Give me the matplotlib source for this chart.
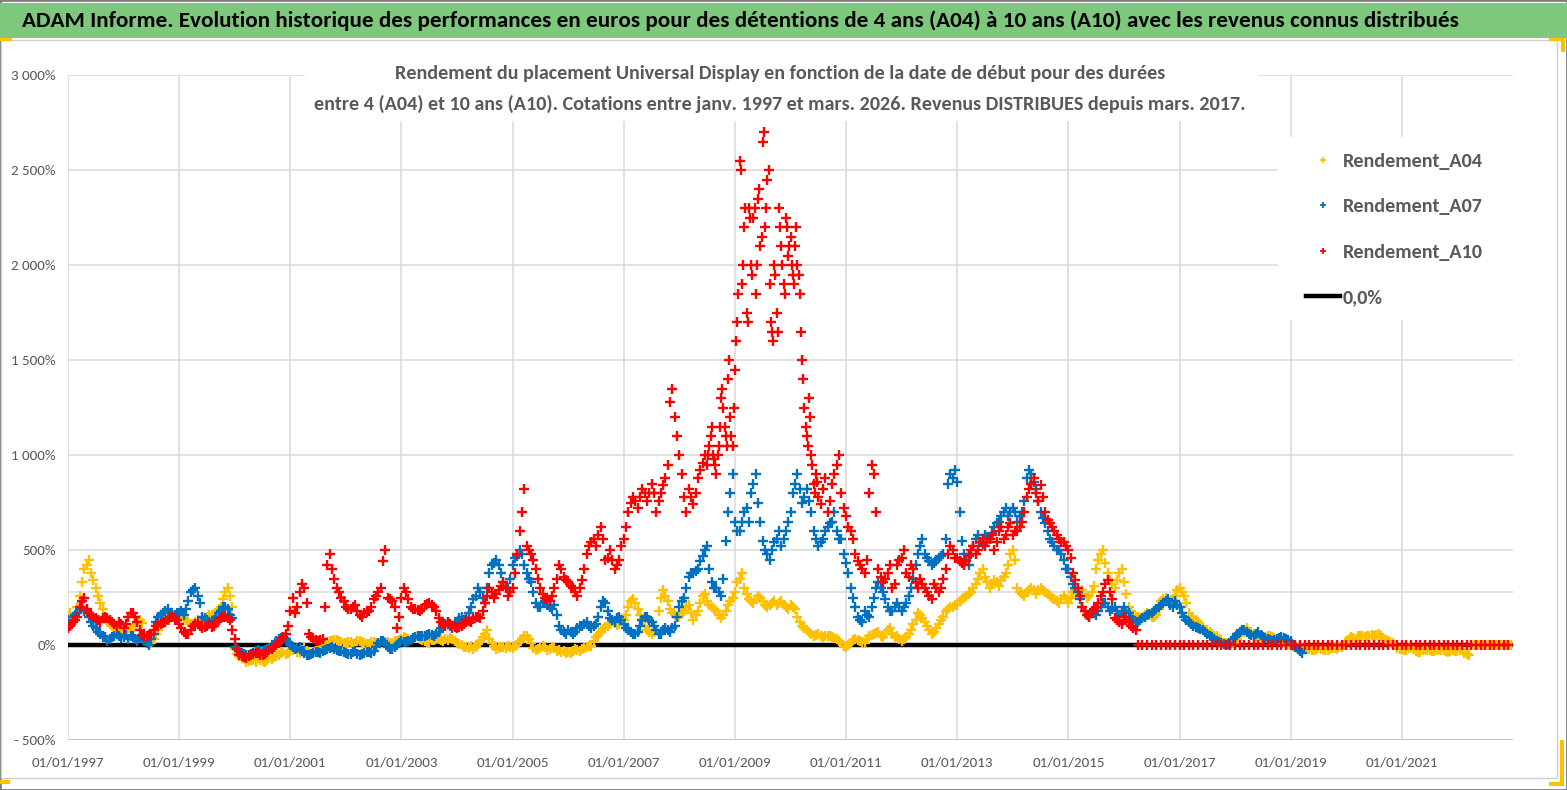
import numpy as np
import matplotlib
matplotlib.use('Agg')
import matplotlib.pyplot as plt
from matplotlib.lines import Line2D
from matplotlib.patches import Rectangle

# ------------------------------------------------------------------ data
# Rendement (%) by start date of the holding.
# *_MID lists are the readings taken half a month later (other side of the band).
A04_START = 1997.0
A04 = [
    150, 130, 200, 330, 420, 380, 300, 220, 150, 110, 90, 80,        # 1997
    80, 90, 95, 120, 115, 20, 10, 60, 100, 120, 140, 150,            # 1998
    155, 140, 120, 110, 130, 120, 150, 160, 170, 200, 280, 260,      # 1999
    -20, -60, -75, -85, -80, -70, -85, -80, -75, -60, -40, -45,      # 2000
    -30, -20, -40, -15, -40, -35, -30, 0, 15, 20, 25, 15,            # 2001
    10, 15, 10, 20, 10, 5, 15, 10, 20, 15, 10, 20,                   # 2002
    30, 35, 25, 40, 30, 20, 15, 25, 30, 20, 25, 30,                  # 2003
    10, 0, -10, -5, -10, 20, 60, 30, -5, -15, -10, -5,               # 2004
    -15, 0, 30, 45, 10, -25, -15, -10, -20, -15, -25, -30,           # 2005
    -35, -30, -25, -20, -10, -5, 40, 70, 95, 110, 115, 110,          # 2006
    130, 200, 240, 190, 130, 80, 60, 80, 250, 260, 190, 160,         # 2007
    150, 180, 210, 130, 180, 260, 230, 200, 180, 140, 180, 230,      # 2008
    280, 350, 300, 240, 220, 260, 230, 200, 220, 210, 230, 200,      # 2009
    210, 190, 120, 90, 70, 50, 60, 40, 50, 40, 30, 10,               # 2010
    -10, 10, 30, 20, 10, 50, 60, 70, 40, 80, 60, 50,                 # 2011
    20, 40, 80, 130, 160, 120, 80, 70, 110, 150, 190, 200,           # 2012
    210, 240, 260, 280, 320, 380, 360, 300, 340, 310, 360, 420,      # 2013
    500, 300, 270, 280, 300, 270, 300, 280, 260, 240, 220, 260,      # 2014
    220, 280, 270, 290, 250, 280, 400, 480, 430, 340, 300, 380,      # 2015
    330, 200, 160, 150, 140, 170, 150, 160, 230, 250, 220, 260,      # 2016
    300, 260, 170, 140, 120, 90, 80, 60, 50, 20, 10, 0,              # 2017
    10, 50, 80, 70, 60, 40, 30, 50, 40, 30, 20, 10,                  # 2018
    0, -10, -20, -10, -20, -25, -15, -20, -25, -15, -20, -10,        # 2019
    20, 40, 30, 50, 40, 45, 50, 60, 30, 20, 10, -15,                 # 2020
    -20, -25, -10, -30, -35, -20, -25, -30, -20, -25, -35, -25,      # 2021
    -30, -20, -45, 0, 0, 0, 0, 0, 0, 0, 0, 0,                        # 2022
]
A04_MID = [
    170, 160, 260, 400, 450, 340, 260, 190, 120, 100, 80, 85,
    85, 80, 110, 130, 60, 15, 30, 80, 120, 130, 150, 160,
    150, 130, 110, 120, 125, 140, 160, 165, 190, 240, 300, 200,
    -45, -70, -90, -80, -90, -80, -90, -70, -65, -50, -35, -40,
    -25, -35, -25, -30, -45, -30, -15, 10, 20, 25, 20, 10,
    15, 5, 20, 15, 5, 15, 10, 20, 15, 5, 20, 25,
    40, 30, 35, 45, 25, 15, 25, 30, 25, 30, 35, 20,
    5, -10, -15, -20, 5, 40, 80, 10, -20, -10, -15, -10,
    -5, 20, 45, 30, -15, -20, -5, -25, -10, -30, -35, -40,
    -40, -20, -30, -15, -5, 20, 55, 85, 100, 120, 105, 125,
    160, 230, 220, 160, 100, 70, 70, 180, 290, 230, 170, 150,
    170, 200, 170, 160, 220, 270, 210, 190, 160, 160, 210, 250,
    330, 380, 270, 230, 240, 250, 210, 210, 230, 220, 210, 190,
    200, 150, 100, 80, 60, 55, 50, 45, 45, 35, 20, -5,
    0, 25, 25, 15, 30, 55, 65, 50, 60, 90, 40, 30,
    30, 60, 110, 170, 140, 100, 60, 90, 130, 180, 200, 210,
    230, 250, 270, 300, 350, 400, 330, 320, 330, 340, 380, 480,
    450, 280, 260, 290, 290, 290, 290, 270, 250, 230, 240, 240,
    250, 290, 260, 270, 260, 310, 450, 500, 380, 320, 340, 400,
    270, 180, 150, 140, 160, 160, 150, 190, 240, 230, 240, 290,
    280, 220, 150, 130, 100, 80, 70, 50, 30, 10, 0, 10,
    30, 70, 90, 60, 50, 35, 40, 45, 35, 25, 15, 5,
    -5, -15, -15, -20, -25, -20, -20, -25, -20, -15, -10, 0,
    30, 35, 45, 45, 45, 55, 55, 45, 25, 15, 0, -20,
    -25, -15, -20, -35, -25, -25, -30, -25, -25, -30, -30, -30,
    -25, -40, -55, 0, 0, 0, 0, 0, 0, 0, 0, 0,
]

A07_START = 1997.0
A07 = [
    130, 150, 170, 200, 180, 120, 90, 60, 40, 30, 50, 45,            # 1997
    40, 30, 50, 20, 40, 10, 30, 120, 160, 180, 170, 160,             # 1998
    170, 160, 230, 290, 260, 150, 130, 120, 150, 180, 200, 160,      # 1999
    -10, -30, -45, -50, -40, -25, -30, -20, -10, 20, 35, 30,         # 2000
    0, -20, -10, -40, -50, -40, -35, -30, -20, -10, -25, -30,        # 2001
    -40, -45, -30, -50, -40, -35, -30, 10, 20, -10, -20, 0,          # 2002
    20, 15, 25, 40, 50, 45, 60, 50, 70, 100, 120, 90,                # 2003
    120, 150, 140, 200, 260, 280, 220, 380, 430, 420, 330, 300,      # 2004
    420, 470, 480, 380, 330, 220, 200, 230, 200, 210, 100, 70,       # 2005
    80, 60, 90, 100, 120, 90, 110, 200, 220, 140, 120, 150,          # 2006
    110, 80, 60, 70, 130, 150, 120, 80, 60, 90, 70, 100,             # 2007
    200, 250, 360, 380, 400, 470, 520, 330, 300, 260, 550, 800,      # 2008
    650, 600, 700, 650, 850, 750, 550, 480, 500, 560, 520, 600,      # 2009
    700, 850, 820, 780, 760, 600, 520, 560, 620, 650, 600, 560,      # 2010
    430, 300, 200, 130, 180, 150, 250, 330, 280, 200, 180, 220,      # 2011
    180, 220, 300, 420, 520, 480, 440, 430, 460, 480, 850, 880,      # 2012
    860, 550, 450, 480, 560, 540, 580, 560, 620, 650, 700, 680,      # 2013
    720, 650, 700, 880, 900, 820, 700, 640, 560, 520, 500, 450,      # 2014
    400, 320, 280, 200, 160, 180, 160, 200, 220, 180, 200, 160,      # 2015
    200, 170, 130, 120, 140, 160, 170, 190, 210, 230, 210, 230,      # 2016
    200, 150, 120, 100, 90, 80, 60, 40, 20, 10, 0, 10,               # 2017
    40, 70, 80, 60, 50, 70, 40, 30, 20, 30, 40, 30,                  # 2018
    20, -10, -30,                                                    # 2019
]
A07_MID = [
    110, 160, 190, 180, 150, 100, 70, 50, 20, 40, 60, 35,
    55, 45, 30, 35, 20, 0, 60, 150, 170, 190, 160, 170,
    180, 190, 280, 300, 220, 140, 120, 130, 170, 200, 190, 140,
    -20, -40, -55, -45, -30, -30, -25, -15, 0, 30, 40, 15,
    -10, -15, -30, -50, -45, -35, -40, -25, -15, -20, -30, -35,
    -45, -35, -45, -45, -35, -40, -10, 20, 10, -20, -10, 10,
    15, 20, 35, 45, 50, 55, 55, 60, 90, 110, 100, 110,
    140, 130, 170, 240, 300, 250, 300, 420, 450, 380, 300, 350,
    460, 500, 420, 350, 280, 200, 220, 210, 190, 160, 80, 60,
    70, 70, 100, 110, 100, 100, 150, 230, 180, 130, 140, 130,
    90, 70, 60, 100, 150, 130, 100, 60, 80, 80, 90, 150,
    230, 300, 380, 390, 440, 500, 400, 300, 280, 350, 700, 900,
    600, 650, 720, 800, 900, 650, 500, 450, 540, 600, 560, 650,
    800, 900, 750, 820, 700, 560, 540, 600, 640, 700, 560, 480,
    380, 250, 150, 120, 160, 200, 300, 300, 240, 180, 200, 200,
    200, 260, 350, 480, 560, 460, 420, 450, 470, 560, 900, 920,
    700, 480, 420, 520, 580, 530, 570, 590, 640, 680, 720, 700,
    700, 680, 760, 920, 860, 760, 670, 600, 540, 500, 480, 400,
    360, 300, 240, 180, 150, 170, 180, 220, 200, 190, 180, 170,
    180, 150, 120, 130, 150, 165, 180, 200, 220, 240, 200, 210,
    170, 130, 110, 95, 85, 70, 50, 30, 15, 5, 5, 30,
    60, 80, 70, 55, 60, 55, 35, 25, 25, 35, 35, 25,
    0, -20, -40,
]

# A10, part 1: monthly, Jan 1997 - Jun 2008
A10_P1_START = 1997.0
A10_P1 = [
    90, 120, 150, 230, 190, 160, 140, 120, 150, 130, 110, 120,       # 1997
    90, 150, 170, 120, 55, 50, 60, 100, 110, 120, 150, 140,          # 1998
    110, 70, 60, 100, 120, 90, 100, 95, 120, 140, 150, 130,          # 1999
    30, -50, -65, -60, -45, -40, -55, -35, -20, 0, 20, 60,           # 2000
    180, 170, 280, 300, 60, 30, 20, 30, 420, 400, 300, 250,          # 2001
    200, 190, 210, 160, 170, 180, 240, 280, 440, 250, 230, 90,       # 2002
    250, 280, 200, 190, 180, 210, 220, 200, 140, 110, 120, 100,      # 2003
    90, 100, 130, 120, 150, 140, 220, 300, 250, 290, 330, 260,       # 2004
    300, 480, 700, 520, 480, 400, 300, 250, 230, 300, 420, 360,      # 2005
    330, 300, 260, 340, 480, 540, 520, 620, 450, 500, 400, 450,      # 2006
    560, 700, 780, 720, 820, 760, 850, 700, 800, 880, 1280, 1200,    # 2007
    1000, 780, 820, 740, 880, 960,                                   # 2008 H1
]
A10_P1_MID = [
    100, 130, 200, 250, 170, 150, 130, 140, 140, 120, 100, 110,
    110, 170, 150, 80, 50, 55, 80, 110, 115, 130, 145, 130,
    90, 60, 80, 110, 100, 95, 110, 100, 130, 150, 140, 80,
    -20, -60, -70, -50, -40, -50, -45, -25, -10, 10, 40, 100,
    250, 200, 320, 220, 40, 25, 25, 200, 480, 350, 280, 230,
    190, 200, 180, 150, 175, 200, 260, 300, 500, 240, 200, 150,
    300, 240, 190, 185, 190, 215, 210, 180, 120, 100, 110, 95,
    95, 110, 125, 135, 145, 180, 260, 280, 270, 310, 300, 280,
    380, 600, 820, 500, 450, 350, 270, 240, 260, 350, 400, 340,
    310, 280, 300, 400, 520, 560, 580, 560, 460, 450, 420, 520,
    620, 750, 760, 780, 800, 800, 800, 760, 840, 950, 1350, 1100,
    900, 700, 780, 800, 920, 1000,
]
# A10, part 2: twice a month, Jul 2008 - Jun 2010
A10_P2_START = 2008.5
A10_P2 = [
    950, 1050, 1150, 980, 900, 1050, 1300, 1250, 1100, 1400, 1200, 1050,
    1450, 1700, 2550, 1900, 2200, 1750, 2300, 2000, 2250, 1850, 2350, 2100,
    2650, 2200, 2450, 1900, 1650, 2000, 1750, 2300, 2100, 1900, 2250, 2050,
    2150, 1950, 2100, 2000, 1850, 1500, 1250, 1100, 1300, 1000, 850, 900,
]
A10_P2_MID = [
    1000, 1100, 1000, 950, 1000, 1150, 1350, 1150, 1050, 1500, 1100, 1250,
    1600, 1850, 2500, 2000, 2300, 1700, 2250, 1950, 2300, 2000, 2400, 2150,
    2700, 2300, 2500, 1700, 1600, 1950, 1650, 2200, 2000, 1850, 2200, 2100,
    2000, 1900, 2200, 1950, 1650, 1400, 1150, 1050, 1200, 950, 800, 860,
]
# A10, part 3: monthly, Jul 2010 - Mar 2016
A10_P3_START = 2010.5
A10_P3 = [
    780, 820, 700, 850, 950, 800,                                    # 2010 H2
    680, 600, 480, 420, 380, 800, 900, 400, 330, 380, 300, 420,      # 2011
    460, 380, 420, 330, 350, 300, 260, 320, 280, 350, 480, 500,      # 2012
    460, 430, 440, 500, 480, 540, 520, 560, 500, 600, 560, 620,      # 2013
    580, 600, 650, 780, 850, 800, 840, 700, 640, 600, 560, 540,      # 2014
    500, 380, 300, 200, 160, 170, 200, 260, 320, 280, 140, 120,      # 2015
    150, 120, 90,                                                    # 2016 Q1
]
A10_P3_MID = [
    740, 880, 760, 900, 1000, 720,
    620, 560, 440, 400, 450, 950, 700, 360, 350, 420, 320, 450,
    500, 360, 400, 300, 320, 280, 240, 300, 300, 400, 520, 460,
    440, 420, 470, 520, 500, 560, 540, 580, 540, 620, 580, 640,
    600, 620, 700, 820, 880, 760, 780, 660, 620, 580, 540, 520,
    460, 340, 260, 180, 150, 190, 220, 280, 340, 240, 130, 110,
    130, 100, 80,
]
# A10, part 4: monthly, Apr 2016 - Dec 2022 (no 10-year result yet -> 0)
A10_P4_START = 2016.25
A10_P4 = [
    0, 0, 0, 0, 0, 0, 0, 0, 0,
    0, 0, 0, 0, 0, 0, 0, 0, 0, 0, 0, 0,
    0, 0, 0, 0, 0, 0, 0, 0, 0, 0, 0, 0,
    0, 0, 0, 0, 0, 0, 0, 0, 0, 0, 0, 0,
    0, 0, 0, 0, 0, 0, 0, 0, 0, 0, 0, 0,
    0, 0, 0, 0, 0, 0, 0, 0, 0, 0, 0, 0,
    0, 0, 0, 0, 0, 0, 0, 0, 0, 0, 0, 0,
]

ZERO_X = [1997.0, 2023.0]
ZERO_Y = [0.0, 0.0]

YTICKS = [-500, 0, 500, 1000, 1500, 2000, 2500, 3000]
YTICK_LABELS = ['- 500%', '0%', '500%', '1 000%', '1 500%', '2 000%', '2 500%', '3 000%']
XTICKS = [1997, 1999, 2001, 2003, 2005, 2007, 2009, 2011, 2013, 2015, 2017, 2019, 2021]
XTICK_LABELS = ['01/01/' + str(y) for y in XTICKS]
EXTRA_GRID = 280

LABELS = ['Rendement_A04', 'Rendement_A07', 'Rendement_A10', '0,0%']
TITLE = ("ADAM Informe. Evolution historique des performances en euros pour des "
         "détentions de 4 ans (A04) à 10 ans (A10) avec les revenus connus distribués")
SUB1 = "Rendement du placement Universal Display en fonction de la date de début pour des durées"
SUB2 = ("entre 4 (A04) et 10 ans (A10). Cotations entre janv. 1997 et mars. 2026. "
        "Revenus DISTRIBUES depuis mars. 2017.")

# ------------------------------------------------------------------ style
YEL, BLU, RED = '#FFC000', '#0070C0', '#FF0000'
GRAY_TXT = '#595959'
GRID = '#D9D9D9'
FONT = ['Carlito', 'IBM Plex Sans Condensed', 'Liberation Sans', 'DejaVu Sans']
plt.rcParams['font.family'] = FONT

W, H = 1567, 790
fig = plt.figure(figsize=(W / 100, H / 100), dpi=100)
fig.patch.set_facecolor('white')
renderer = fig.canvas.get_renderer()


def fx(x):
    return x / W


def fy(y):
    return 1 - y / H


def text_size(s, px_width, weight='normal', ref=20):
    t = fig.text(0, 0, s, fontsize=ref, fontweight=weight)
    w = t.get_window_extent(renderer).width
    t.remove()
    return ref * px_width / w


def text_height(s, size, weight='normal'):
    t = fig.text(0, 0, s, fontsize=size, fontweight=weight)
    h = t.get_window_extent(renderer).height
    t.remove()
    return h


# frame and title bar
fig.add_artist(Rectangle((0, 0), 1, 1, transform=fig.transFigure, fill=False,
                         edgecolor='#7F7F7F', lw=2, zorder=0.5))
fig.add_artist(Rectangle((fx(1), fy(778)), fx(1556), fy(40) - fy(778), transform=fig.transFigure,
                         fill=False, edgecolor='#D0D0D0', lw=1, zorder=0.6))
fig.add_artist(Rectangle((fx(0), fy(38)), 1, fy(3) - fy(38), transform=fig.transFigure,
                         facecolor='#7DC87D', edgecolor='none', zorder=0.7))
ts = text_size(TITLE, 1433, 'bold')
fig.text(fx(22), fy(21), TITLE, fontsize=ts, fontweight='bold', color='black',
         ha='left', va='center', zorder=3)

# yellow corner handles
for (x0, y0, x1, y1) in [(0, 38, 12, 41), (1549, 38, 1565, 41), (1561, 38, 1565, 52),
                         (0, 780, 10, 784), (1549, 782, 1564, 786), (1560, 740, 1564, 786)]:
    fig.add_artist(Rectangle((fx(x0), fy(y1)), fx(x1 - x0), fy(y0) - fy(y1),
                             transform=fig.transFigure, facecolor=YEL,
                             edgecolor='none', zorder=0.8))

# ------------------------------------------------------------------ axes
ax = fig.add_axes([fx(68), fy(740), fx(1513 - 68), fy(75) - fy(740)])
ax.set_xlim(1997.0, 2023.0)
ax.set_ylim(-500, 3000)
for s in ax.spines.values():
    s.set_visible(False)
ax.axhline(-500, color='#BFBFBF', lw=1.2, zorder=1)

ax.set_yticks(YTICKS)
ax.set_yticklabels(YTICK_LABELS)
ax.set_xticks(XTICKS)
ax.set_xticklabels(XTICK_LABELS)
tick_fs = text_size('01/01/1997', 73)
ax.tick_params(axis='both', length=0, labelsize=tick_fs, labelcolor=GRAY_TXT)
ax.tick_params(axis='y', pad=9)
ax.tick_params(axis='x', pad=12)
ax.grid(True, color=GRID, lw=1.1, zorder=0)
ax.axhline(EXTRA_GRID, color=GRID, lw=1.1, zorder=0)
ax.set_axisbelow(True)

# zero reference line
ax.plot(ZERO_X, ZERO_Y, color='black', lw=3.2, zorder=1.5, solid_capstyle='butt')

mk = dict(linestyle='none', marker='+', markersize=7, markeredgewidth=1.7)


def months(start, n, per_year=12, offset=0.0):
    return start + (np.arange(n) + offset) / per_year


def series(parts, offset=0.0):
    xs, ys = [], []
    for start, vals, per in parts:
        xs.append(months(start, len(vals), per, offset))
        ys.append(np.asarray(vals, dtype=float))
    return np.concatenate(xs), np.concatenate(ys)


x04, y04 = series([(A04_START, A04, 12)])
x04m, y04m = series([(A04_START, A04_MID, 12)], 0.5)
x07, y07 = series([(A07_START, A07, 12)])
x07m, y07m = series([(A07_START, A07_MID, 12)], 0.5)
x10, y10 = series([(A10_P1_START, A10_P1, 12), (A10_P2_START, A10_P2, 24),
                   (A10_P3_START, A10_P3, 12), (A10_P4_START, A10_P4, 12)])
x10m, y10m = series([(A10_P1_START, A10_P1_MID, 12), (A10_P2_START, A10_P2_MID, 24),
                     (A10_P3_START, A10_P3_MID, 12)], 0.5)

ax.plot(np.concatenate([x04, x04m]), np.concatenate([y04, y04m]), color=YEL, zorder=2, **mk)
ax.plot(np.concatenate([x07, x07m]), np.concatenate([y07, y07m]), color=BLU, zorder=3, **mk)
ax.plot(np.concatenate([x10, x10m]), np.concatenate([y10, y10m]), color=RED, zorder=4, **mk)

# ------------------------------------------------------------------ subtitle (white box)
fig.add_artist(Rectangle((fx(305), fy(121)), fx(1258 - 305), fy(52) - fy(121),
                         transform=fig.transFigure, facecolor='white',
                         edgecolor='none', zorder=1))
ss = text_size(SUB2, 933, 'bold')
fig.text(fx(780), fy(74), SUB1, fontsize=ss, fontweight='bold', color=GRAY_TXT,
         ha='center', va='center', zorder=2)
fig.text(fx(780), fy(104), SUB2, fontsize=ss, fontweight='bold', color=GRAY_TXT,
         ha='center', va='center', zorder=2)

# ------------------------------------------------------------------ legend
fig.add_artist(Rectangle((fx(1278), fy(320)), fx(1515 - 1278), fy(137) - fy(320),
                         transform=fig.transFigure, facecolor='white',
                         edgecolor='none', zorder=1))
ls = text_size('Rendement_A04', 140, 'bold')
ls_px = ls * 100 / 72
th = text_height('Rendement_A04', ls, 'bold')
lmk = dict(linestyle='none', marker='+', markersize=5, markeredgewidth=1.3)
handles = [Line2D([], [], color=YEL, **lmk), Line2D([], [], color=BLU, **lmk),
           Line2D([], [], color=RED, **lmk), Line2D([], [], color='black', lw=3.2)]
leg = fig.legend(handles, LABELS, loc='upper left',
                 bbox_to_anchor=(fx(1306), fy(161 - th / 2)),
                 frameon=False, borderpad=0, borderaxespad=0,
                 handlelength=34 / ls_px, handletextpad=3 / ls_px,
                 labelspacing=(45.5 - th) / ls_px,
                 prop={'family': FONT, 'size': ls, 'weight': 'bold'})
for t in leg.get_texts():
    t.set_color(GRAY_TXT)
leg.set_zorder(5)

fig.savefig('out.png', dpi=100)
